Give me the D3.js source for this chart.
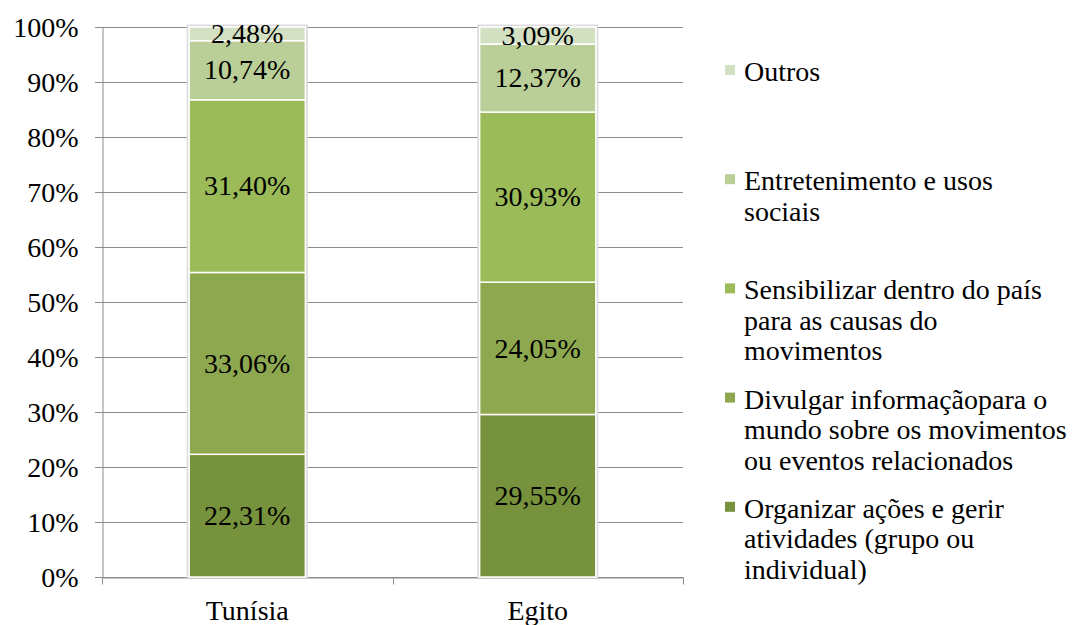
<!DOCTYPE html>
<html>
<head>
<meta charset="utf-8">
<script src="https://cdn.jsdelivr.net/npm/d3@7"></script>
<style>
  body { margin: 0; background: #fff; }
  text { font-family: "Liberation Serif", "Times New Roman", serif; fill: #000; }
</style>
</head>
<body>
<div id="chart"></div>
<script>
const countries = ["Tunísia", "Egito"];
const categories = [
  "Organizar ações e gerir atividades (grupo ou individual)",
  "Divulgar informaçãopara o mundo sobre os movimentos ou eventos relacionados",
  "Sensibilizar dentro do país para as causas do movimentos",
  "Entretenimento e usos sociais",
  "Outros"
];
// legend lines as they wrap in the picture
const legendLines = [
  ["Organizar ações e gerir", "atividades (grupo ou", "individual)"],
  ["Divulgar informaçãopara o", "mundo sobre os movimentos", "ou eventos relacionados"],
  ["Sensibilizar dentro do país", "para as causas do", "movimentos"],
  ["Entretenimento e usos", "sociais"],
  ["Outros"]
];
const tunisia = [22.31, 33.06, 31.40, 10.74, 2.48];
const egito = [29.55, 24.05, 30.93, 12.37, 3.09];
const colors = ["#77923c", "#8ea850", "#9bbb59", "#bacf97", "#d3e0c2"];
const yTicks = [0, 10, 20, 30, 40, 50, 60, 70, 80, 90, 100];

const width = 1078, height = 625;
const margin = {left: 102, right: 395, top: 27, bottom: 48};
const fs = 28;

const svg = d3.select("#chart").append("svg")
  .attr("width", width)
  .attr("height", height);

const x = d3.scaleBand()
  .domain(countries)
  .range([margin.left, width - margin.right])
  .paddingInner(0.6)
  .paddingOuter(0.3);

const y = d3.scaleLinear()
  .domain([0, 100])
  .range([height - margin.bottom, margin.top]);

// gridlines
svg.append("g")
  .selectAll("line")
  .data(yTicks)
  .enter().append("line")
  .attr("x1", margin.left - 7)
  .attr("x2", width - margin.right)
  .attr("y1", d => Math.round(y(d)) + 0.5)
  .attr("y2", d => Math.round(y(d)) + 0.5)
  .attr("stroke", "#8c8c8c")
  .attr("stroke-width", 1);

// y axis
const yAxis = svg.append("g")
  .attr("transform", `translate(${margin.left + 0.5},0)`)
  .call(d3.axisLeft(y).tickValues(yTicks).tickSize(7).tickPadding(17).tickFormat(d => d + "%"));
yAxis.select(".domain").attr("stroke", "#8c8c8c");
yAxis.selectAll(".tick line").attr("stroke", "#8c8c8c");
yAxis.selectAll(".tick text")
  .attr("font-family", "Liberation Serif")
  .attr("font-size", fs)
  .attr("dy", "0.33em");

// x axis
const xAxis = svg.append("g")
  .attr("transform", `translate(0,${Math.round(y(0)) + 0.5})`)
  .call(d3.axisBottom(x).tickSize(0).tickPadding(23));
xAxis.select(".domain").attr("stroke", "#8c8c8c");
xAxis.selectAll(".tick text")
  .attr("font-family", "Liberation Serif")
  .attr("font-size", fs);
xAxis.append("g")
  .selectAll("line")
  .data([0, 1, 2])
  .enter().append("line")
  .attr("x1", i => Math.round(margin.left + i * x.step()) + 0.5)
  .attr("x2", i => Math.round(margin.left + i * x.step()) + 0.5)
  .attr("y1", 0)
  .attr("y2", 7)
  .attr("stroke", "#8c8c8c");

// stacked data
const rows = countries.map((c, i) => {
  const vals = i === 0 ? tunisia : egito;
  const r = {country: c};
  categories.forEach((k, j) => r[k] = vals[j]);
  return r;
});
const series = d3.stack().keys(categories)(rows);

const bars = svg.append("g");

// faint bar shadow
bars.selectAll("rect.shadow")
  .data(countries)
  .enter().append("rect")
  .attr("class", "shadow")
  .attr("x", d => x(d) - 1.5)
  .attr("y", y(100) - 1.5)
  .attr("width", x.bandwidth() + 3)
  .attr("height", y(0) - y(100) + 1.5)
  .attr("fill", "none")
  .attr("stroke", "#dcdcdc")
  .attr("stroke-width", 2);

const layer = bars.selectAll("g.layer")
  .data(series)
  .enter().append("g")
  .attr("class", "layer")
  .attr("fill", (d, i) => colors[i]);

layer.selectAll("rect")
  .data(d => d)
  .enter().append("rect")
  .attr("x", d => x(d.data.country))
  .attr("y", d => y(d[1]))
  .attr("width", x.bandwidth())
  .attr("height", d => y(d[0]) - y(d[1]))
  .attr("stroke", "#fff")
  .attr("stroke-width", 1.5);

layer.selectAll("text")
  .data(d => d.map(p => ({p, key: d.key})))
  .enter().append("text")
  .attr("x", d => x(d.p.data.country) + x.bandwidth() / 2)
  .attr("y", d => (y(d.p[0]) + y(d.p[1])) / 2)
  .attr("dy", "0.33em")
  .attr("text-anchor", "middle")
  .attr("font-size", fs)
  .text(d => (d.p[1] - d.p[0]).toFixed(2).replace(".", ",") + "%");

// legend, top entry first
const legend = svg.append("g")
  .attr("transform", "translate(725,0)");
const order = d3.range(categories.length).reverse();
const item = legend.selectAll("g")
  .data(order)
  .enter().append("g")
  .attr("transform", (d, i) => `translate(0,${81 + i * 109.2})`);
item.append("rect")
  .attr("x", 0)
  .attr("y", -16)
  .attr("width", 10)
  .attr("height", 10)
  .attr("fill", d => colors[d]);
item.append("text")
  .attr("font-size", fs)
  .selectAll("tspan")
  .data(d => legendLines[d])
  .enter().append("tspan")
  .attr("x", 19)
  .attr("y", (d, i) => i * 30.5)
  .text(d => d);
</script>
</body>
</html>
